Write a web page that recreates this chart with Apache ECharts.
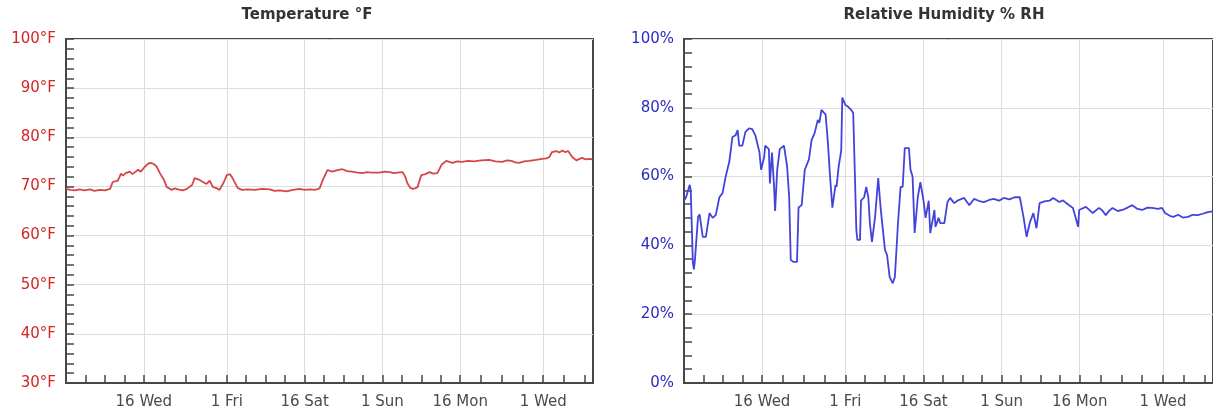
<!DOCTYPE html>
<html>
<head>
<meta charset="utf-8">
<script src="https://cdn.jsdelivr.net/npm/echarts@6/dist/echarts.min.js"></script>
<style>
html,body{margin:0;padding:0;background:#fff;}
#chart{width:1213px;height:417px;}
</style>
</head>
<body>
<div id="chart"></div>
<script>
// Time axis in days since 2016-03-01 00:00
var X_MAX = 101.6;
var labelDays = [15, 31, 46, 61, 76, 92];
var labelTexts = ['16 Wed', '1 Fri', '16 Sat', '1 Sun', '16 Mon', '1 Wed'];
var minorTickDays = [3.75, 7.5, 11.25, 15, 19, 23, 27, 31, 34.75, 38.5, 42.25, 46, 49.75, 53.5, 57.25, 61, 64.75, 68.5, 72.25, 76, 80, 84, 88, 92, 96, 100];

var tempDays = [0,0.8,1.7,2.6,3.5,4.6,5.5,6.5,7.5,8.5,9.0,10.0,10.6,11.0,11.5,12.3,12.8,13.1,13.9,14.4,15.2,15.8,16.2,16.9,17.5,18.1,18.9,19.4,20.4,21.0,21.6,22.5,23.3,24.3,24.8,25.6,26.4,27.1,27.7,28.3,29.1,29.6,30.4,31.0,31.6,32.1,33.1,33.9,35.0,36.4,37.8,39.3,40.2,41.2,42.5,43.8,45.0,46.0,47.0,48.0,48.9,49.5,50.4,51.4,52.3,53.3,54.2,55.2,56.2,57.2,58.0,58.9,60.4,61.4,62.4,63.2,63.9,64.9,65.4,65.8,66.3,66.8,67.3,67.8,68.1,68.5,69.3,70.1,70.8,71.6,72.4,73.3,74.5,75.4,76.4,77.5,78.7,80.0,81.6,82.8,84.1,85.0,85.9,86.6,87.4,88.3,89.3,90.6,91.8,92.6,93.2,93.7,94.5,95.1,95.7,96.2,96.8,97.6,98.4,99.0,99.5,100.2,100.9,101.5];
var tempValues = [69.5,69.3,69.2,69.4,69.2,69.4,69.1,69.3,69.2,69.5,70.9,71.2,72.6,72.2,72.7,73.0,72.5,72.8,73.4,73.0,74.0,74.6,74.8,74.6,74.0,72.7,71.3,69.9,69.3,69.6,69.4,69.2,69.5,70.3,71.7,71.4,70.9,70.5,71.2,69.9,69.6,69.3,70.8,72.3,72.5,71.7,69.7,69.3,69.4,69.3,69.5,69.4,69.1,69.2,69.0,69.3,69.5,69.3,69.4,69.3,69.6,71.3,73.3,73.0,73.3,73.5,73.1,73.0,72.8,72.7,72.9,72.8,72.8,73.0,72.9,72.7,72.8,72.9,72.0,70.7,69.8,69.5,69.6,69.9,71.0,72.3,72.5,72.9,72.6,72.7,74.4,75.2,74.8,75.1,75.0,75.2,75.1,75.3,75.4,75.1,75.0,75.3,75.2,74.9,74.8,75.1,75.2,75.4,75.6,75.7,76.0,77.0,77.2,76.9,77.3,77.0,77.2,76.0,75.3,75.6,75.8,75.5,75.6,75.5];

var humDays = [0.0,0.4,1.1,1.3,1.7,1.9,2.1,2.7,3.0,3.6,4.2,4.9,5.5,6.1,6.8,7.4,8.0,8.7,9.3,9.9,10.3,10.6,11.2,11.8,12.5,13.1,13.7,14.5,14.8,15.4,15.6,16.3,16.5,16.9,17.3,17.5,17.9,18.4,19.2,19.8,20.2,20.5,21.0,21.7,22.0,22.6,23.2,24.0,24.5,25.1,25.7,26.0,26.4,27.2,27.6,28.1,28.5,29.1,29.3,29.7,30.2,30.4,31.0,31.6,32.1,32.5,32.9,33.1,33.3,33.8,34.0,34.6,35.0,35.4,35.7,36.1,36.7,37.3,37.6,37.8,38.2,38.6,39.0,39.5,40.1,40.5,41.1,41.6,42.0,42.4,43.2,43.5,43.9,44.3,44.9,45.4,46.0,46.4,47.0,47.3,48.1,48.3,48.9,49.2,50.0,50.6,51.1,51.9,52.5,53.8,54.8,55.7,56.7,57.6,58.6,59.5,60.5,61.4,62.5,63.5,64.5,65.2,65.8,66.4,67.1,67.7,68.3,69.2,70.2,70.9,72.1,72.8,73.4,74.1,74.7,75.7,75.9,76.6,77.2,78.5,79.7,80.3,81.0,81.7,82.3,83.3,84.2,85.2,86.1,87.1,88.0,89.0,89.9,91.0,91.8,92.4,93.3,94.0,94.9,95.8,96.8,97.7,98.7,99.6,100.6,101.5];
var humValues = [53,54,57.6,56,35,33,35.8,48.3,49,42.5,42.5,49.4,48,48.8,54,55.2,60,64.3,71.5,72,73.5,69,69,73,74,73.8,72,67,62,65.7,69,68,58,67,57,50,62,68,69,63,54,35.8,35.2,35.2,51,51.7,62,65,70.6,72.7,76.5,75.6,79.4,78,70.6,59,51,57.6,57,62.8,67.7,83,80.8,80.2,79.4,78.5,56,44.5,41.6,41.6,53,54,57,54,46.5,41,48.3,59.6,54,50.3,44.5,38.7,37.2,30.8,29,30.8,46.5,57,57,68.3,68.3,62,60,43.6,54,58.4,53,48,53,43.6,50.3,45.4,48,46.5,46.5,52.6,53.8,52.3,53,53.8,51.7,53.5,52.9,52.6,53.2,53.5,53.0,53.8,53.4,54,54,48.3,42.5,46.5,49.4,45,52.3,52.8,53,53.8,52.6,53.1,52.3,51.5,50.9,45.4,50.3,50.8,51.2,49.4,50.9,50.2,48.8,50.1,50.9,50.0,50.3,51.0,51.7,50.6,50.3,51.0,50.9,50.6,50.9,49.4,48.6,48.3,48.9,48.1,48.3,48.9,48.8,49.2,49.7,49.9];

var FONT = 'DejaVu Sans';
var AXIS_DARK = '#474747';
var GRID_LIGHT = '#dddddd';

function labelFor(v) {
  for (var i = 0; i < labelDays.length; i++) {
    if (Math.abs(labelDays[i] - v) < 1e-6) return labelTexts[i];
  }
  return '';
}

function xAxesFor(gi) {
  return [
    {
      gridIndex: gi, type: 'value', min: 0, max: X_MAX, position: 'bottom',
      axisLine: {show: true, onZero: false, lineStyle: {color: AXIS_DARK, width: 2}},
      axisTick: {show: true, inside: true, length: 8, customValues: minorTickDays, lineStyle: {color: AXIS_DARK, width: 1.5}},
      axisLabel: {show: false},
      splitLine: {show: false}
    },
    {
      gridIndex: gi, type: 'value', min: 0, max: X_MAX, position: 'bottom',
      axisLine: {show: false, onZero: false},
      axisTick: {show: false, customValues: labelDays},
      axisLabel: {show: true, customValues: labelDays, formatter: labelFor, margin: 12, color: '#4a4a4a', fontSize: 15, fontFamily: FONT},
      splitLine: {show: true, lineStyle: {color: GRID_LIGHT, width: 1}}
    }
  ];
}

function yAxisFor(gi, min, max, interval, fmt, color) {
  return {
    gridIndex: gi, type: 'value', min: min, max: max, interval: interval, position: 'left',
    axisLine: {show: true, onZero: false, lineStyle: {color: AXIS_DARK, width: 2}},
    axisTick: {show: true, inside: true, length: 8, lineStyle: {color: AXIS_DARK, width: 1.5}},
    minorTick: {show: true, splitNumber: 5, length: 8, lineStyle: {color: AXIS_DARK, width: 1.5}},
    axisLabel: {formatter: fmt, color: color, fontSize: 15, fontFamily: FONT, margin: 10},
    splitLine: {show: true, lineStyle: {color: GRID_LIGHT, width: 1}}
  };
}

var chart = echarts.init(document.getElementById('chart'), null, {renderer: 'canvas'});
var xs = xAxesFor(0).concat(xAxesFor(1));
chart.setOption({
  animation: false,
  backgroundColor: '#fff',
  title: [
    {text: 'Temperature °F', left: 307, top: 8, textAlign: 'center', padding: 0,
     textStyle: {fontFamily: FONT, fontSize: 15, fontWeight: 'bold', color: '#333'}},
    {text: 'Relative Humidity % RH', left: 944, top: 8, textAlign: 'center', padding: 0,
     textStyle: {fontFamily: FONT, fontSize: 15, fontWeight: 'bold', color: '#333'}}
  ],
  grid: [
    {left: 66, top: 39, width: 527, height: 344, show: true, borderColor: AXIS_DARK, borderWidth: 2, containLabel: false},
    {left: 684, top: 39, width: 534, height: 344, show: true, borderColor: AXIS_DARK, borderWidth: 2, containLabel: false}
  ],
  xAxis: xs,
  yAxis: [
    yAxisFor(0, 30, 100, 10, '{value}°F', '#d42424'),
    yAxisFor(1, 0, 100, 20, '{value}%', '#2b2bc4')
  ],
  series: [
    {
      name: 'Temperature', type: 'line', xAxisIndex: 0, yAxisIndex: 0, showSymbol: false,
      data: tempDays.map(function (d, i) { return [d, tempValues[i]]; }),
      lineStyle: {color: '#d64548', width: 1.8}, itemStyle: {color: '#d64548'}
    },
    {
      name: 'Humidity', type: 'line', xAxisIndex: 2, yAxisIndex: 1, showSymbol: false,
      data: humDays.map(function (d, i) { return [d, humValues[i]]; }),
      lineStyle: {color: '#4343dc', width: 1.8}, itemStyle: {color: '#4343dc'}
    }
  ]
});
</script>
</body>
</html>
